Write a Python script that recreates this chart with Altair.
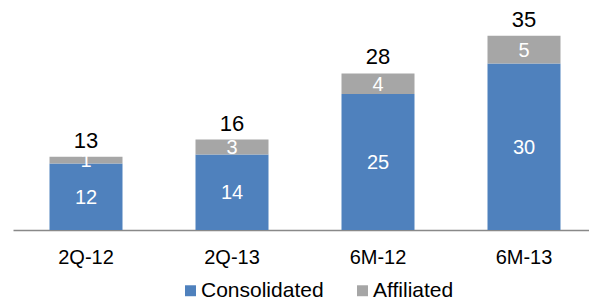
import altair as alt
import pandas as pd

categories = ["2Q-12", "2Q-13", "6M-12", "6M-13"]
consolidated = [12.0, 13.6, 24.5, 30.0]
affiliated = [1.2, 2.7, 3.7, 5.0]
series = ["Consolidated", "Affiliated"]
colors = ["#4F81BD", "#A6A6A6"]

rows = []
for c, v1, v2 in zip(categories, consolidated, affiliated):
    rows.append({"cat": c, "series": series[0], "value": v1, "ord": 0})
    rows.append({"cat": c, "series": series[1], "value": v2, "ord": 1})
df = pd.DataFrame(rows)
tot = pd.DataFrame({"cat": categories,
                    "total": [a + b for a, b in zip(consolidated, affiliated)]})

FONT = "Liberation Sans"
xscale = alt.Scale(paddingInner=0.5, paddingOuter=0.25)
x = alt.X("cat:N", sort=categories, title=None, scale=xscale,
          axis=alt.Axis(labelAngle=0, ticks=False, labelFontSize=20, labelColor="#000000",
                        labelPadding=17, domainColor="#898989", domainWidth=1.5,
                        labelFont=FONT, grid=False))
yscale = alt.Scale(domain=[0, 40], nice=False, zero=True)

bars = alt.Chart(df).mark_bar().encode(
    x=x,
    y=alt.Y("value:Q", stack="zero", scale=yscale, axis=None),
    color=alt.Color("series:N", sort=series,
                    scale=alt.Scale(domain=series, range=colors),
                    legend=alt.Legend(title=None, orient="none", direction="horizontal",
                                      legendX=167, legendY=272, padding=0,
                                      symbolType="square", symbolSize=120,
                                      symbolStrokeWidth=0,
                                      labelFontSize=21, labelFont=FONT,
                                      labelColor="#000000",
                                      columnPadding=28, labelOffset=0)),
    order=alt.Order("ord:Q"),
)

inner = alt.Chart(df).transform_stack(
    stack="value", groupby=["cat"], as_=["y0", "y1"], sort=[alt.SortField("ord")]
).transform_calculate(
    mid="(datum.y0 + datum.y1) / 2"
).mark_text(color="white", fontSize=20, font=FONT, baseline="middle", dy=1).encode(
    x=alt.X("cat:N", sort=categories, scale=xscale),
    y=alt.Y("mid:Q", scale=yscale),
    text=alt.Text("value:Q", format=".0f"),
)

totals = alt.Chart(tot).mark_text(fontSize=22, baseline="alphabetic", dy=-9,
                                  font=FONT, color="black").encode(
    x=alt.X("cat:N", sort=categories, scale=xscale),
    y=alt.Y("total:Q", scale=yscale),
    text=alt.Text("total:Q", format=".0f"),
)

chart = alt.layer(bars, inner, totals).properties(
    width=584, height=222,
    padding={"left": 5, "top": 0, "right": -8, "bottom": 70},
    autosize=alt.AutoSizeParams(type="none"),
).configure_view(stroke=None)

chart.save("out.html", embed_options={"renderer": "svg", "actions": False})
